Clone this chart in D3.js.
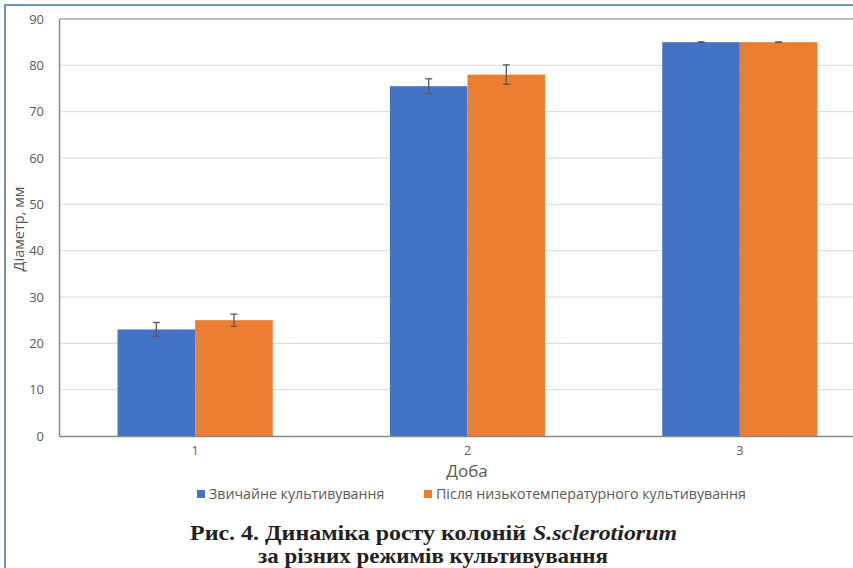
<!DOCTYPE html>
<html><head><meta charset="utf-8">
<script src="https://cdn.jsdelivr.net/npm/d3@7"></script>
<style>body{margin:0;background:#fff}svg{display:block}</style>
</head><body>
<svg id="c" width="853" height="568"></svg>
<script>
const categories = ["1", "2", "3"];
const seriesNames = ["Звичайне культивування", "Після низькотемпературного культивування"];
const normalValues = [23.0, 75.5, 85.0];
const normalErrors = [1.5, 1.6, 0.05];
const coldValues = [25.0, 78.0, 85.0];
const coldErrors = [1.3, 2.1, 0.05];
const yTicks = [0, 10, 20, 30, 40, 50, 60, 70, 80, 90];
const colors = ["#4472C4", "#ED7D31"];

(function () {
const svg = d3.select("#c");
const pLeft = 59, pRight = 876, pTop = 19, pBottom = 436;

// outer frame
svg.append("rect").attr("x", 5).attr("y", 5).attr("width", 860).attr("height", 580)
  .attr("fill", "none").attr("stroke", "#4e77a0").attr("stroke-width", 1.6);

const y = d3.scaleLinear().domain([0, 90]).range([pBottom, pTop]);
const x0 = d3.scaleBand().domain(categories).range([pLeft, pRight]).paddingInner(0.43).paddingOuter(0.215);
const x1 = d3.scaleBand().domain([0, 1]).range([0, x0.bandwidth()]);

// gridlines
svg.append("g").selectAll("line").data(yTicks.filter(t => t > 0 && t < 90)).join("line")
  .attr("x1", pLeft).attr("x2", pRight).attr("y1", d => y(d)).attr("y2", d => y(d))
  .attr("stroke", "#d9d9d9").attr("stroke-width", 1);

// plot top border
svg.append("line").attr("x1", pLeft).attr("x2", pRight).attr("y1", y(90)).attr("y2", y(90))
  .attr("stroke", "#a6a6a6").attr("stroke-width", 1.3);

const data = categories.map((c, i) => ({c, vals: [
  {s: 0, v: normalValues[i], e: normalErrors[i]},
  {s: 1, v: coldValues[i], e: coldErrors[i]}]}));

const g = svg.append("g").selectAll("g").data(data).join("g")
  .attr("transform", d => `translate(${x0(d.c)},0)`);
g.selectAll("rect").data(d => d.vals).join("rect")
  .attr("x", d => x1(d.s)).attr("width", x1.bandwidth())
  .attr("y", d => y(d.v)).attr("height", d => y(0) - y(d.v))
  .attr("fill", d => colors[d.s]);

// error bars
const eb = g.selectAll("g.eb").data(d => d.vals).join("g").attr("class", "eb");
eb.append("line").attr("x1", d => x1(d.s) + x1.bandwidth() / 2).attr("x2", d => x1(d.s) + x1.bandwidth() / 2)
  .attr("y1", d => y(d.v + d.e)).attr("y2", d => y(d.v - d.e)).attr("stroke", "#595959").attr("stroke-width", 1.3);
eb.selectAll("line.cap").data(d => [{d, k: 1}, {d, k: -1}]).join("line").attr("class", "cap")
  .attr("x1", o => x1(o.d.s) + x1.bandwidth() / 2 - 3.5).attr("x2", o => x1(o.d.s) + x1.bandwidth() / 2 + 3.5)
  .attr("y1", o => y(o.d.v + o.k * o.d.e)).attr("y2", o => y(o.d.v + o.k * o.d.e))
  .attr("stroke", "#595959").attr("stroke-width", 1.3);

// y axis
const yAxis = svg.append("g").attr("transform", `translate(${pLeft},0)`)
  .call(d3.axisLeft(y).tickValues(yTicks).tickSize(0).tickPadding(15));
yAxis.select(".domain").attr("stroke", "#898989").attr("stroke-width", 1.5);
yAxis.selectAll("text").attr("fill", "#595959").attr("font-family", "Open Sans").attr("font-size", 13);

// x axis
const xAxis = svg.append("g").attr("transform", `translate(0,${pBottom})`)
  .call(d3.axisBottom(x0).tickSize(0).tickPadding(10));
xAxis.select(".domain").attr("stroke", "#898989").attr("stroke-width", 1.5);
xAxis.selectAll("text").attr("fill", "#595959").attr("font-family", "Open Sans").attr("font-size", 12.5);

// axis titles
svg.append("text").attr("transform", "translate(24,229) rotate(-90)").attr("text-anchor", "middle")
  .attr("fill", "#595959").attr("font-family", "Open Sans").attr("font-size", 14.5).text("Діаметр, мм");
svg.append("text").attr("x", 467).attr("y", 477).attr("text-anchor", "middle")
  .attr("fill", "#595959").attr("font-family", "Open Sans").attr("font-size", 17).text("Доба");

// legend
const legX = [197, 424];
seriesNames.forEach((n, i) => {
  svg.append("rect").attr("x", legX[i]).attr("y", 490).attr("width", 8).attr("height", 8).attr("fill", colors[i]);
  svg.append("text").attr("x", legX[i] + 12).attr("y", 499).attr("fill", "#595959")
    .attr("font-family", "Open Sans").attr("font-size", 14.2).text(n);
});

// caption
const capStyle = sel => sel.attr("font-family", "Liberation Serif").attr("font-weight", "bold")
  .attr("font-size", 22).attr("fill", "#231f20").attr("lengthAdjust", "spacingAndGlyphs");
svg.append("text").attr("x", 190).attr("y", 540).call(capStyle)
  .attr("textLength", 336).text("Рис. 4. Динаміка росту колоній");
svg.append("text").attr("x", 533).attr("y", 540).call(capStyle)
  .attr("font-style", "italic").attr("textLength", 144).text("S.sclerotiorum");
svg.append("text").attr("x", 258).attr("y", 563).call(capStyle)
  .attr("textLength", 350).text("за різних режимів культивування");
})();
</script>
</body></html>
